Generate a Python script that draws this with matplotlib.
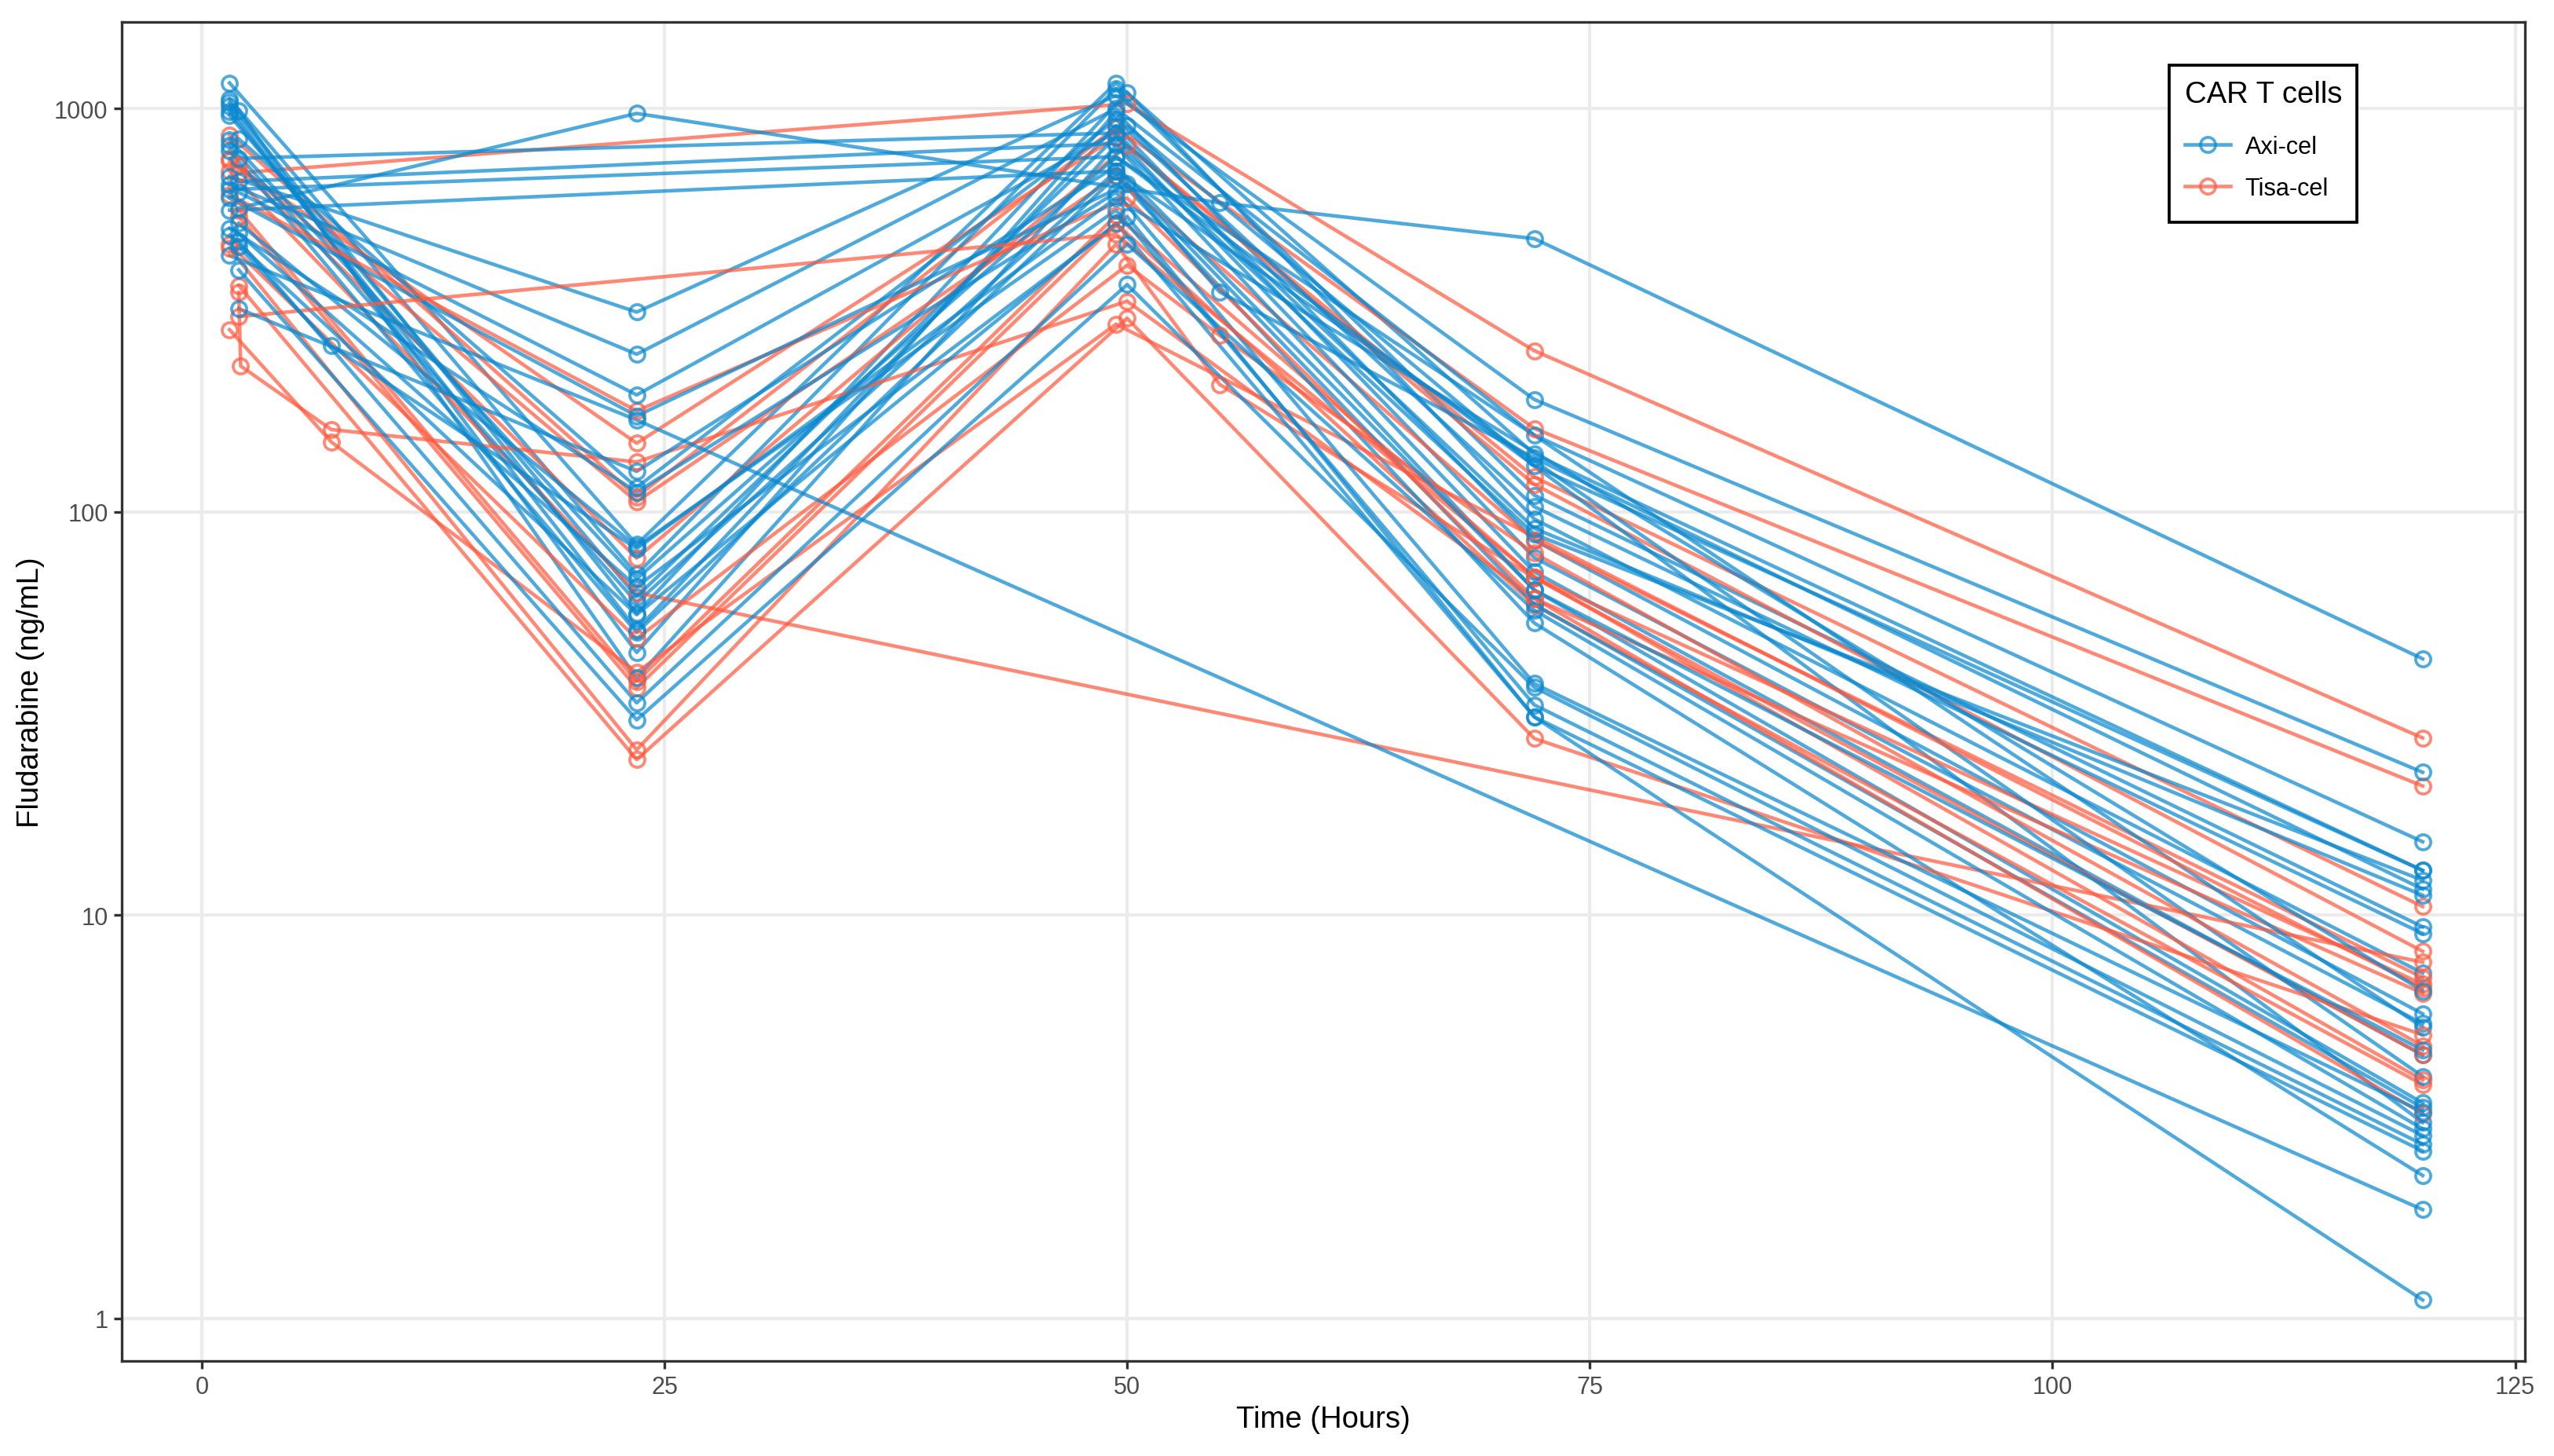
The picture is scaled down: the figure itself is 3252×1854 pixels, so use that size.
import numpy as np
import matplotlib
matplotlib.use("Agg")
import matplotlib.pyplot as plt
from matplotlib.lines import Line2D
from matplotlib.patches import Rectangle

plt.rcParams['font.family'] = ['Liberation Sans', 'DejaVu Sans']

# sampling times (hours) and fludarabine concentration (ng/mL), one row per patient
axi_times = [
    [1.5, 23.5, 49.4, 72, 120],
    [1.5, 23.5, 49.4, 72, 120],
    [1.5, 23.5, 50.0, 72, 120],
    [1.5, 23.5, 49.4, 72, 120],
    [1.5, 23.5, 49.4, 72, 120],
    [2.0, 23.5, 49.4, 72, 120],
    [1.5, 23.5, 49.4, 72, 120],
    [1.5, 23.5, 49.4, 120],
    [2.0, 23.5, 49.4, 72, 120],
    [1.5, 23.5, 49.4, 72, 120],
    [1.5, 23.5, 49.4, 72, 120],
    [2.0, 49.4, 72, 120],
    [2.0, 49.4, 72, 120],
    [1.5, 49.4, 120],
    [1.5, 49.4, 120],
    [2.0, 23.5, 55, 72, 120],
    [1.5, 23.5, 49.4, 72, 120],
    [1.5, 23.5, 49.4, 72, 120],
    [2.0, 23.5, 50.0, 72, 120],
    [1.5, 23.5, 50.0, 55, 72, 120],
    [1.5, 23.5, 120],
    [1.5, 23.5, 49.4, 72, 120],
    [2.0, 23.5, 49.4, 72, 120],
    [2.0, 23.5, 50.0, 72, 120],
    [1.5, 23.5, 49.4, 72, 120],
    [2.0, 23.5, 50.0, 72, 120],
    [2.0, 23.5, 50.0, 72, 120],
    [2.0, 7.0, 23.5, 49.4, 120],
    [2.0, 23.5, 49.4, 72, 120],
]
axi_conc = [
    [1158, 83, 1158, 139, 12.9],
    [1059, 70, 1122, 110, 9.35],
    [1036, 56, 1097, 96, 7.18],
    [1014, 44.8, 980, 85, 5.69],
    [984, 51, 906, 77, 5.38],
    [990, 38.7, 810, 64, 3.42],
    [962, 61.6, 850, 71, 4.5],
    [836, 68.2, 760, 3.06],
    [841, 115, 940, 103, 9.0],
    [811, 59.6, 700, 59, 3.33],
    [787, 50.2, 680, 53, 2.26],
    [753, 870, 91, 11.2],
    [660, 820, 88, 12.2],
    [630, 760, 5.27],
    [560, 700, 3.98],
    [567, 973, 584, 476, 43.2],
    [679, 313, 1078, 190, 22.6],
    [649, 246, 1000, 155, 15.2],
    [620, 195, 906, 130, 12.9],
    [600, 173, 650, 351, 136, 11.6],
    [432, 169, 1.86],
    [505, 112, 620, 37.5, 3.25],
    [520, 82, 560, 33.2, 2.7],
    [490, 65.2, 540, 31, 1.11],
    [485, 55.6, 520, 31, 2.6],
    [470, 33.6, 461, 57, 2.95],
    [398, 30.5, 366, 36.7, 2.84],
    [455, 258, 81, 600, 6.49],
    [319, 126, 720, 64, 4.63],
]

tisa_times = [
    [1.5, 23.5, 49.4, 72, 120],
    [2.0, 50.0, 72, 120],
    [1.5, 23.5, 50.0, 72, 120],
    [1.5, 23.5, 49.4, 72, 120],
    [2.0, 23.5, 49.4, 72, 120],
    [2.0, 23.5, 49.4, 72, 120],
    [1.5, 23.5, 120],
    [1.5, 23.5, 50.0, 72, 120],
    [2.0, 23.5, 49.4, 72, 120],
    [1.5, 23.5, 50.0, 55, 72, 120],
    [1.5, 23.5, 49.4, 55, 72, 120],
    [2.0, 23.5, 50.0, 72, 120],
    [2.0, 2.1, 7.0, 23.5, 50.0, 72, 120],
    [2.0, 49.4, 72, 120],
    [1.5, 7.0, 23.5, 49.4, 120],
]
tisa_conc = [
    [860, 109, 900, 161, 20.9],
    [693, 1028, 251, 27.5],
    [753, 76.8, 810, 122, 10.5],
    [740, 148, 850, 117, 8.13],
    [721, 106, 680, 85, 7.0],
    [560, 38, 543, 69, 6.74],
    [700, 63, 7.64],
    [612, 178, 600, 61, 6.4],
    [540, 36.6, 519, 58.7, 3.8],
    [461, 48.5, 409, 274, 79, 4.74],
    [450, 25.7, 461, 207, 68.6, 4.5],
    [364, 24.3, 302, 27.4, 5.05],
    [350, 230, 160, 133, 333, 61, 3.22],
    [305, 488, 69, 3.9],
    [283, 149, 40, 292, 6.6],
]

groups = ['Axi-cel', 'Tisa-cel']
colors = {'Axi-cel': '#0A88CF', 'Tisa-cel': '#FF5A40'}
alpha = 0.72

# mix the two groups so neither sits fully on top
patients = []
for i in range(max(len(axi_times), len(tisa_times))):
    if i < len(axi_times):
        patients.append(('Axi-cel', axi_times[i], axi_conc[i]))
    if i < len(tisa_times) and i % 2 == 0:
        patients.append(('Tisa-cel', tisa_times[i], tisa_conc[i]))
for i in range(len(tisa_times)):
    if i % 2 == 1:
        patients.insert(3 * i, ('Tisa-cel', tisa_times[i], tisa_conc[i]))

fig = plt.figure(figsize=(10.84, 6.1833), dpi=300)
ax = fig.add_axes([0.0478, 0.0653, 0.9407, 0.919])

for g, t, c in patients:
    ax.plot(t, c, color=colors[g], alpha=alpha, lw=1.1, zorder=2)
for g, t, c in patients:
    ax.plot(t, c, ls='none', marker='o', ms=4.6, mfc='none', mec=colors[g],
            mew=0.9, alpha=alpha, zorder=3)

ax.set_yscale('log')

all_t = np.concatenate([np.array(t, float) for _, t, _ in patients])
all_c = np.concatenate([np.array(c, float) for _, _, c in patients])
tr = all_t.max() - all_t.min()
ax.set_xlim(all_t.min() - 0.049 * tr, all_t.max() + 0.0465 * tr)
lo, hi = np.log10(all_c.min()), np.log10(all_c.max())
lr = hi - lo
ax.set_ylim(10 ** (lo - 0.05 * lr), 10 ** (hi + 0.05 * lr))

ax.set_xticks([0, 25, 50, 75, 100, 125])
ax.set_yticks([1, 10, 100, 1000])
ax.set_yticklabels(['1', '10', '100', '1000'])
ax.yaxis.set_minor_locator(matplotlib.ticker.NullLocator())

ax.grid(True, color='#EBEBEB', lw=1.0, zorder=0)
ax.set_axisbelow(True)
for s in ax.spines.values():
    s.set_color('#333333')
    s.set_linewidth(0.8)
ax.tick_params(axis='both', length=2.3, width=0.8, color='#333333',
               labelsize=7.35, labelcolor='#4D4D4D', pad=2.0)

ax.set_xlabel('Time (Hours)', fontsize=9.2, labelpad=2.0)
ax.set_ylabel('Fludarabine (ng/mL)', fontsize=9.2, labelpad=3.0)

# legend box drawn separately so the bottom padding matches
ax.add_patch(Rectangle((0.8522, 0.8504), 0.078, 0.1176, transform=ax.transAxes,
                       facecolor='white', edgecolor='black', lw=0.9, zorder=5))
handles = [Line2D([], [], color=colors[g], alpha=alpha, lw=1.1, marker='o', ms=4.6,
                  mfc='none', mec=colors[g], mew=0.9) for g in groups]
leg = ax.legend(handles, groups, title='CAR T cells', loc='upper left',
                bbox_to_anchor=(0.8522, 0.968), borderaxespad=0, fontsize=7.35,
                title_fontsize=9.2, frameon=False, handlelength=1.9,
                handletextpad=0.6, labelspacing=0.75, borderpad=0.64,
                alignment='left')
leg.set_zorder(6)
leg._legend_box.sep = 8.0

fig.savefig('out.png', dpi=300)
